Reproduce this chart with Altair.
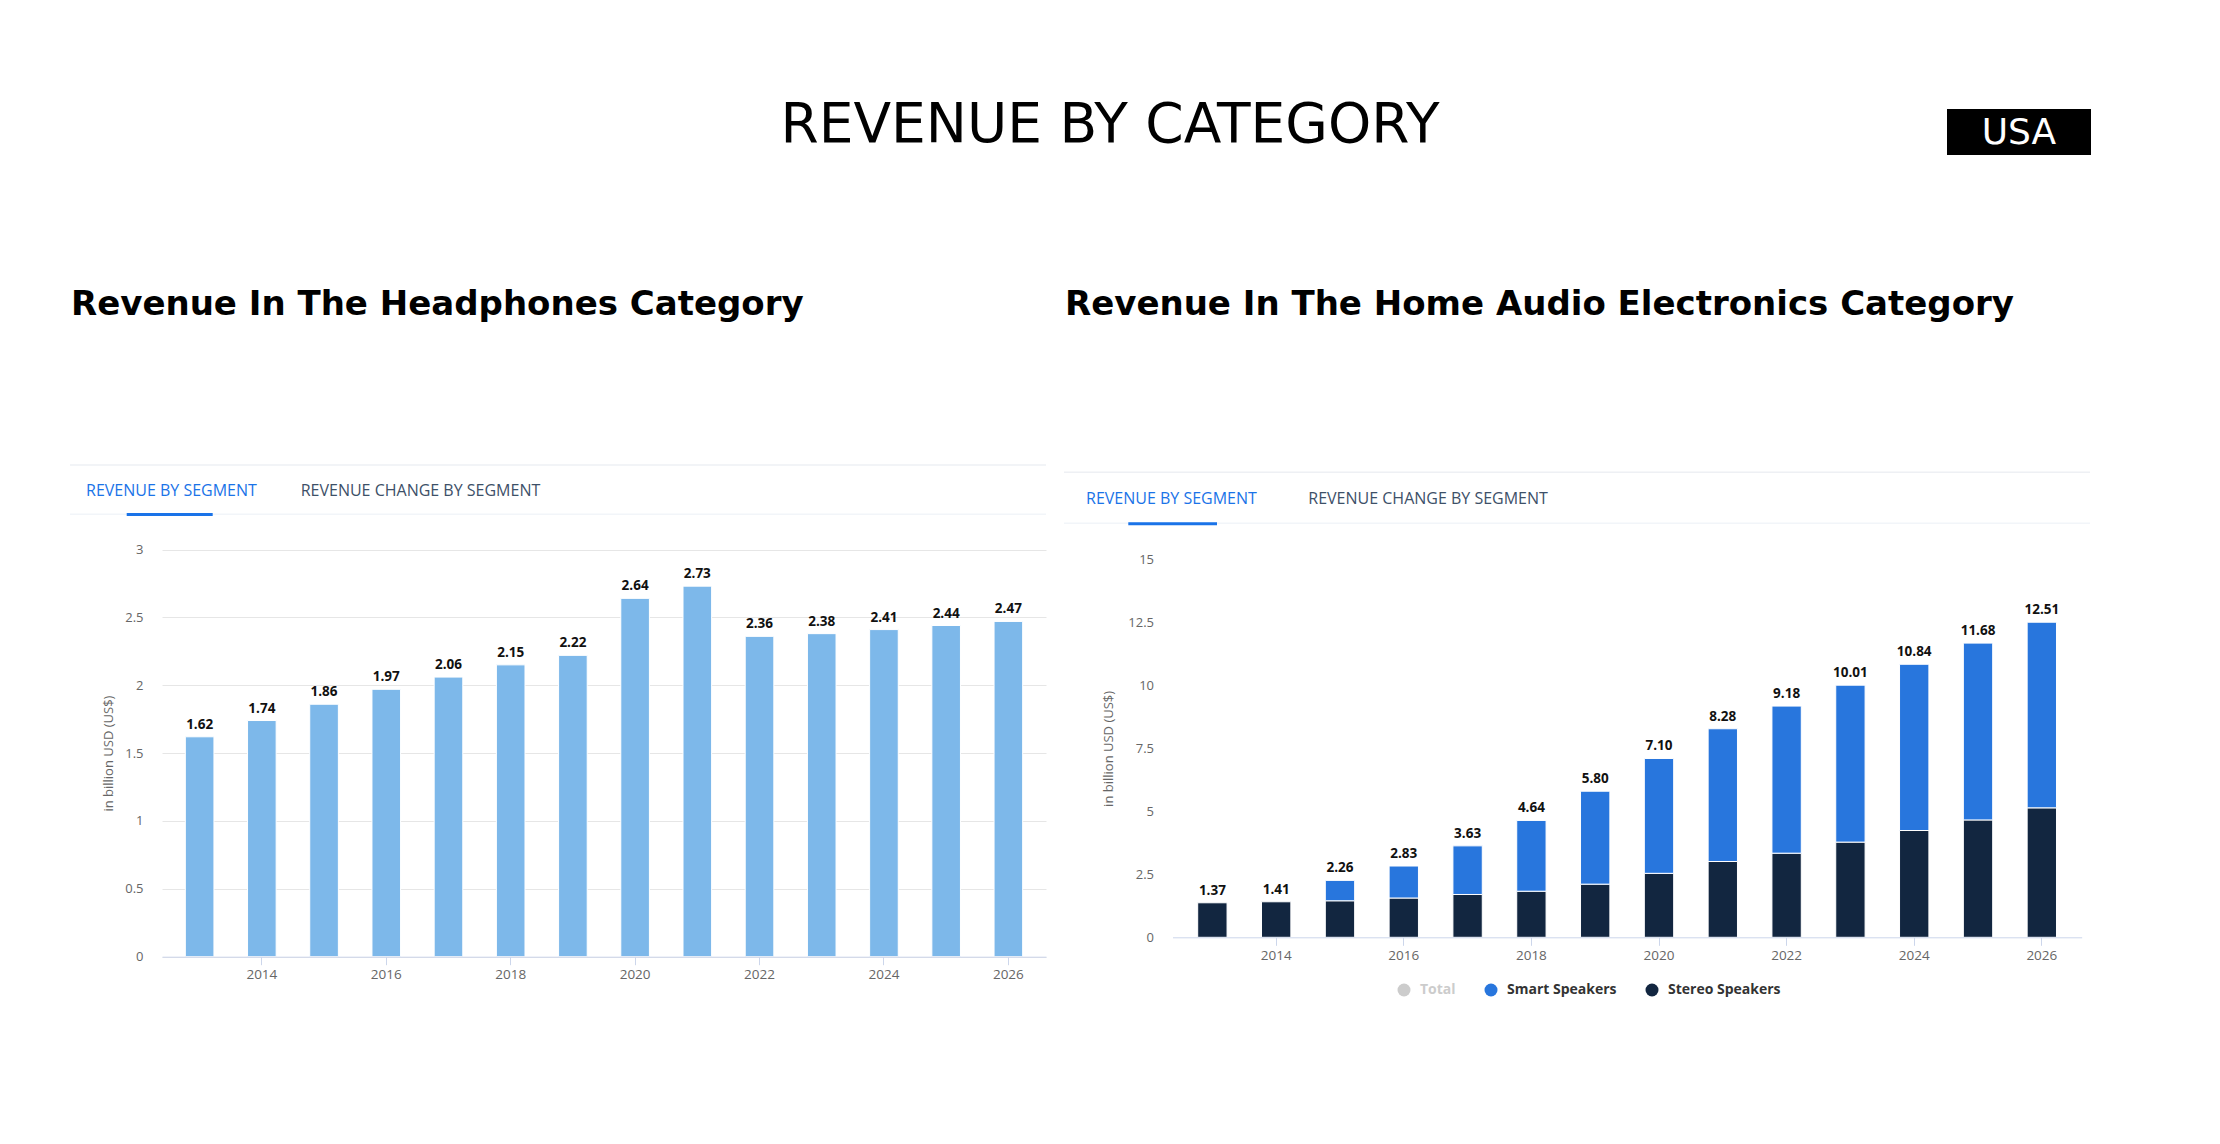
import altair as alt
import pandas as pd

# ---------------- data ----------------
years = [2013, 2014, 2015, 2016, 2017, 2018, 2019, 2020, 2021, 2022, 2023, 2024, 2025, 2026]
headphones = [1.62, 1.74, 1.86, 1.97, 2.06, 2.15, 2.22, 2.64, 2.73, 2.36, 2.38, 2.41, 2.44, 2.47]
home_total = [1.37, 1.41, 2.26, 2.83, 3.63, 4.64, 5.80, 7.10, 8.28, 9.18, 10.01, 10.84, 11.68, 12.51]
stereo_speakers = [1.37, 1.41, 1.45, 1.56, 1.70, 1.83, 2.11, 2.54, 3.01, 3.34, 3.78, 4.24, 4.66, 5.14]
segments = ["Total", "Smart Speakers", "Stereo Speakers"]
segment_colors = ["#cccccc", "#2876dd", "#122640"]
year_ticks = [2014, 2016, 2018, 2020, 2022, 2024, 2026]
left_ticks = [0, 0.5, 1, 1.5, 2, 2.5, 3]
right_ticks = [0, 2.5, 5, 7.5, 10, 12.5, 15]

main_title = "REVENUE BY CATEGORY"
country = "USA"
left_title = "Revenue In The Headphones Category"
right_title = "Revenue In The Home Audio Electronics Category"
tab_active = "REVENUE BY SEGMENT"
tab_other = "REVENUE CHANGE BY SEGMENT"
y_title = "in billion USD (US$)"

# ---------------- tables ----------------
df_left = pd.DataFrame({"year": years, "rev": headphones})
rows = []
for y, t, s in zip(years, home_total, stereo_speakers):
    rows.append({"year": y, "seg": "Stereo Speakers", "lo": 0.0, "hi": s, "total": t})
    if t > s:
        rows.append({"year": y, "seg": "Smart Speakers", "lo": s, "hi": t, "total": t})
df_right = pd.DataFrame(rows)
df_right_tot = pd.DataFrame({"year": years, "lo": home_total, "total": home_total})

# ---------------- layout (chart coords = page - 8) ----------------
W, H = 2204, 1128
LX0, LX1 = 154, 1038
LY0, LY1 = 948.7, 541.5
RX0, RX1 = 1164.5, 2073.7
RY0, RY1 = 929.3, 551.5

FONT = "Open Sans"
AXIS_LINE = "#ccd6eb"
GRID = "#e6e6e6"
LABEL = "#666666"


def x_enc(x0, x1, y0, po):
    return alt.X(
        "year:O",
        scale=alt.Scale(range=[x0, x1], paddingInner=0.54, paddingOuter=po),
        axis=alt.Axis(
            orient="bottom", values=year_ticks, offset=y0 - H, title=None,
            domainColor=AXIS_LINE, tickColor=AXIS_LINE, tickSize=8, labelPadding=3,
            labelColor=LABEL, labelFontSize=13.5, labelFont=FONT, labelAngle=0,
            grid=False, zindex=1,
        ),
    )


def y_axis(x0, ticks, tx, ty):
    return alt.Axis(
        orient="left", values=ticks, offset=-x0, title=y_title,
        labelExpr="datum.value + ''",
        ticks=False, domain=False, labelPadding=19, labelColor=LABEL,
        labelFontSize=13, labelFont=FONT, gridColor=GRID, gridWidth=1,
        titleFont=FONT, titleFontSize=13, titleFontWeight="normal", titleColor=LABEL,
        titleAngle=270, titleAlign="center", titleBaseline="middle",
        titleX=tx, titleY=ty,
    )


# ---------------- left chart ----------------
lx = x_enc(LX0, LX1, LY0, 0.375)
ly = alt.Y("rev:Q", scale=alt.Scale(domain=[0, 3], range=[LY0, LY1], nice=False, zero=True),
           axis=y_axis(LX0, left_ticks, -53.5, (LY0 + LY1) / 2))
left_bars = alt.Chart(df_left).mark_bar(color="#7db8ea", stroke="white", strokeWidth=1).encode(x=lx, y=ly)
left_labels = alt.Chart(df_left).mark_text(
    font=FONT, fontSize=13.5, fontWeight="bold", color="#111111", baseline="alphabetic", dy=-8
).encode(x=lx, y=ly, text=alt.Text("rev:Q", format=".2f"))
left = alt.layer(left_bars, left_labels)

# ---------------- right chart ----------------
rx = x_enc(RX0, RX1, RY0, 0.395)
ry = alt.Y("lo:Q", scale=alt.Scale(domain=[0, 15], range=[RY0, RY1], nice=False, zero=True),
           axis=y_axis(RX0, right_ticks, -64, (RY0 + RY1) / 2))
right_bars = alt.Chart(df_right).mark_bar(stroke="white", strokeWidth=1).encode(
    x=rx,
    y=ry,
    y2="hi:Q",
    color=alt.Color(
        "seg:N",
        scale=alt.Scale(domain=segments, range=segment_colors),
        legend=alt.Legend(
            orient="none", legendX=1389, legendY=975, direction="horizontal", title=None,
            symbolType="circle", symbolSize=169, symbolStrokeWidth=0, symbolOpacity=1,
            labelFont=FONT, labelFontSize=14, labelFontWeight="bold",
            labelColor=alt.ExprRef("datum.value == 'Total' ? '#cccccc' : '#333333'"),
            columnPadding=28, labelOffset=9, padding=0,
        ),
    ),
)
right_labels = alt.Chart(df_right_tot).mark_text(
    font=FONT, fontSize=13.5, fontWeight="bold", color="#111111", baseline="alphabetic", dy=-8
).encode(x=rx, y=ry, text=alt.Text("total:Q", format=".2f"))
right = alt.layer(right_bars, right_labels)

# ---------------- decorations ----------------
one = pd.DataFrame({"k": [0]})


def txt(text, x, y, size, color, weight="normal", font=FONT, align="left"):
    return alt.Chart(one).mark_text(
        text=text, font=font, fontSize=size, fontWeight=weight, color=color,
        align=align, baseline="alphabetic"
    ).encode(x=alt.value(x), y=alt.value(y))


def hline(x1, x2, y, color, w):
    return alt.Chart(one).mark_rule(color=color, strokeWidth=w).encode(
        x=alt.value(x1), x2=alt.value(x2), y=alt.value(y))


usa_box = alt.Chart(one).mark_rect(color="black").encode(
    x=alt.value(1939), x2=alt.value(2083), y=alt.value(101), y2=alt.value(147))

decor = [
    txt(main_title, 1102, 134, 55, "#000000", font="DejaVu Sans", align="center"),
    usa_box,
    txt(country, 2011, 136, 36, "#ffffff", font="DejaVu Sans", align="center"),
    txt(left_title, 63, 307, 34, "#000000", weight="bold", font="DejaVu Sans"),
    txt(right_title, 1057, 307, 34, "#000000", weight="bold", font="DejaVu Sans"),
    # left tabs
    hline(62, 1038, 457, "#eef0f4", 1.5),
    hline(62, 1038, 506.3, "#f2f5f9", 1.5),
    hline(118.7, 204.7, 506.5, "#1a73e8", 3),
    txt(tab_active, 78, 488, 16, "#1a73e8"),
    txt(tab_other, 292.7, 488, 16, "#3d5068"),
    # right tabs
    hline(1056, 2082, 464.3, "#eef0f4", 1.5),
    hline(1056, 2082, 515.3, "#f2f5f9", 1.5),
    hline(1120.3, 1209, 515.7, "#1a73e8", 3),
    txt(tab_active, 1078, 496, 16, "#1a73e8"),
    txt(tab_other, 1300.3, 496, 16, "#3d5068"),
]

chart = alt.layer(left, right, *decor).resolve_scale(
    x="independent", y="independent"
).properties(
    width=W, height=H, autosize=alt.AutoSizeParams(type="none"), padding=0,
    background="white",
).configure_view(stroke=None)

chart.save("out.html", embed_options={"renderer": "svg", "actions": False})
